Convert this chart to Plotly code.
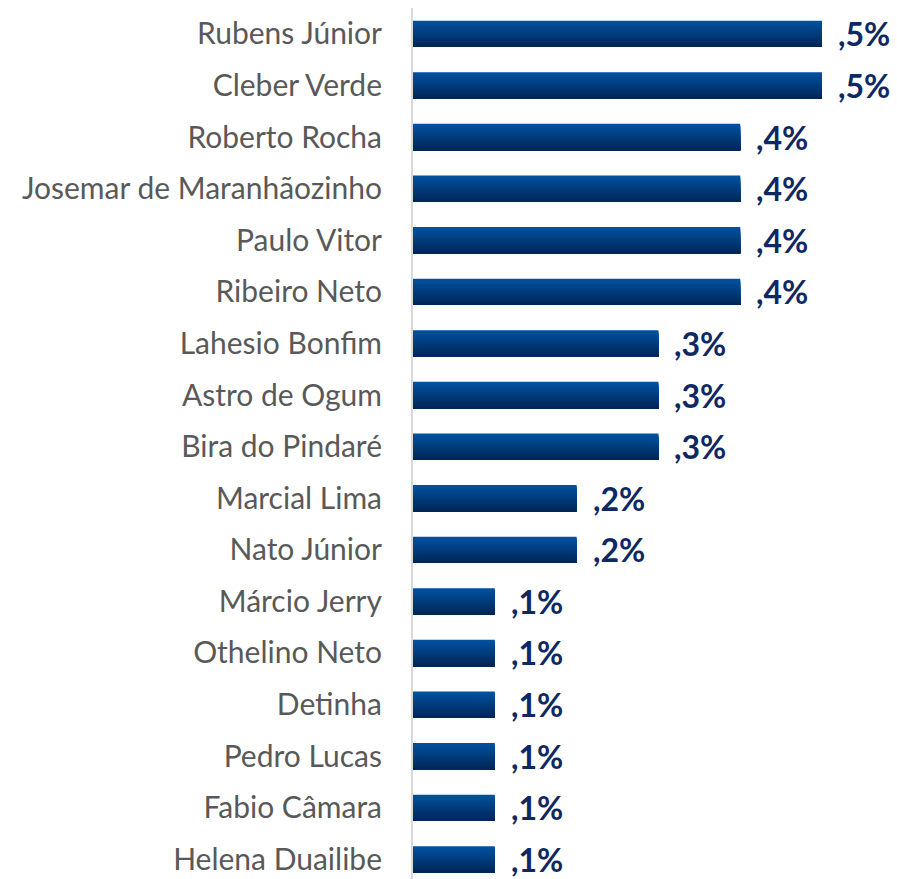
import plotly.graph_objects as go

names = ["Rubens Júnior", "Cleber Verde", "Roberto Rocha", "Josemar de Maranhãozinho",
         "Paulo Vitor", "Ribeiro Neto", "Lahesio Bonfim", "Astro de Ogum", "Bira do Pindaré",
         "Marcial Lima", "Nato Júnior", "Márcio Jerry", "Othelino Neto", "Detinha",
         "Pedro Lucas", "Fabio Câmara", "Helena Duailibe"]
values = [0.5, 0.5, 0.4, 0.4, 0.4, 0.4, 0.3, 0.3, 0.3, 0.2, 0.2, 0.1, 0.1, 0.1, 0.1, 0.1, 0.1]
labels = [",5%", ",5%", ",4%", ",4%", ",4%", ",4%", ",3%", ",3%", ",3%", ",2%", ",2%",
          ",1%", ",1%", ",1%", ",1%", ",1%", ",1%"]

top_rgb = (0, 82, 160)
bot_rgb = (0, 38, 88)
N = 24
bar_w = 0.51
step = bar_w / N

fig = go.Figure()
for i in range(N):
    t = i / (N - 1)
    c = tuple(round(top_rgb[k] + (bot_rgb[k] - top_rgb[k]) * t) for k in range(3))
    fig.add_trace(go.Bar(
        y=names, x=values, orientation="h",
        width=bar_w - i * step,
        offset=-bar_w / 2 + i * step,
        marker=dict(color="rgb(%d,%d,%d)" % c, line=dict(width=0)),
        hoverinfo="skip", showlegend=False,
    ))

for n, v, lab in zip(names, values, labels):
    fig.add_annotation(x=v, y=n, text=lab, showarrow=False, xanchor="left",
                       xshift=14, yshift=0,
                       font=dict(family="Lato", size=32, color="#0e2864", weight="bold"))

fig.update_layout(
    width=897, height=879,
    margin=dict(l=413, r=0, t=8, b=0, autoexpand=False),
    plot_bgcolor="white", paper_bgcolor="white",
    barmode="overlay",
    xaxis=dict(range=[0, 0.5917], visible=False, showgrid=False, zeroline=False,
               automargin=False),
    yaxis=dict(categoryorder="array", categoryarray=names, range=[16.38, -0.5],
               showline=True, linecolor="#d9d9d9", linewidth=2, showgrid=False,
               ticks="", ticklabelstandoff=23, automargin=False,
               tickfont=dict(family="Lato", size=30, color="#595959")),
)
fig.write_html("out.html", config={"displayModeBar": False},
               post_script="document.body.style.margin='0';document.body.style.overflow='hidden';")
